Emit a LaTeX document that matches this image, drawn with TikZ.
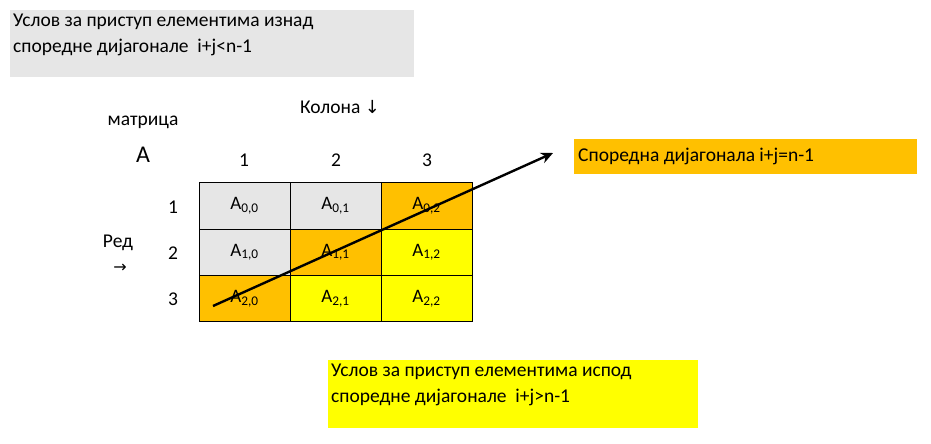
\documentclass[tikz,border=0pt]{standalone}
\usepackage{fontspec}
\usetikzlibrary{arrows.meta}
\setmainfont{Carlito}
\newfontfamily\symf{DejaVu Sans}
\definecolor{gr}{HTML}{E6E6E6}
\definecolor{orng}{HTML}{FFC000}
\definecolor{yel}{HTML}{FFFF00}
\begin{document}
\begin{tikzpicture}[x=1pt,y=-1pt,
  txt/.style={font=\fontsize{19.5}{26}\selectfont,inner sep=0pt},
  cell/.style={draw=black,line width=0.8pt,minimum width=91pt,minimum height=46.3pt,inner sep=0pt,font=\fontsize{19}{22}\selectfont}]
\useasboundingbox (0,0) rectangle (931,444);
\fill[gr] (10,10) rectangle (414,77);
\node[txt,anchor=north west,align=left] (t1) at (13,14) {Услов за приступ елементима изнад\\споредне дијагонале~ i+j<n-1};
\node[txt] (m) at (143,122) {матрица};
\node[txt,font=\fontsize{24}{26}\selectfont] (a) at (143,155) {А};
\node[txt] (kol) at (340,107) {Колона {\symf\fontsize{18}{20}\selectfont↓}};
\foreach \c/\x in {1/244,2/336,3/427}{\node[txt] (c\c) at (\x,160) {\c};}
\foreach \r/\y in {1/207,2/253,3/299}{\node[txt] (r\r) at (173,\y) {\r};}
\node[txt] (red) at (118,243) {Ред};
\node[txt] (ra) at (120,268) {\symf\fontsize{16}{18}\selectfont→};
\def\cols{{"gr","gr","orng","gr","orng","yel","orng","yel","yel"}}
\foreach \i in {0,1,2}{\foreach \j in {0,1,2}{
  \pgfmathsetmacro\k{int(\i*3+\j)}
  \pgfmathparse{\cols[\k]}\let\cc\pgfmathresult
  \node[cell,fill=\cc] (A\i\j) at (244.5+91*\j,206+46.3*\i) {A\textsubscript{\i,\j}};
}}
\fill[orng] (574,139) rectangle (917,174);
\node[txt,anchor=west] (sd) at (578,156) {Споредна дијагонала i+j=n-1};
\coordinate (s) at (213,306);
\coordinate (e) at (553,153);
\draw[line width=2.4pt,-{Stealth[length=12pt,width=11pt]}] (s) -- (e);
\fill[yel] (328,360) rectangle (698,428);
\node[txt,anchor=north west,align=left] (t2) at (331,364) {Услов за приступ елементима испод\\споредне дијагонале~ i+j>n-1};
\end{tikzpicture}
\end{document}
